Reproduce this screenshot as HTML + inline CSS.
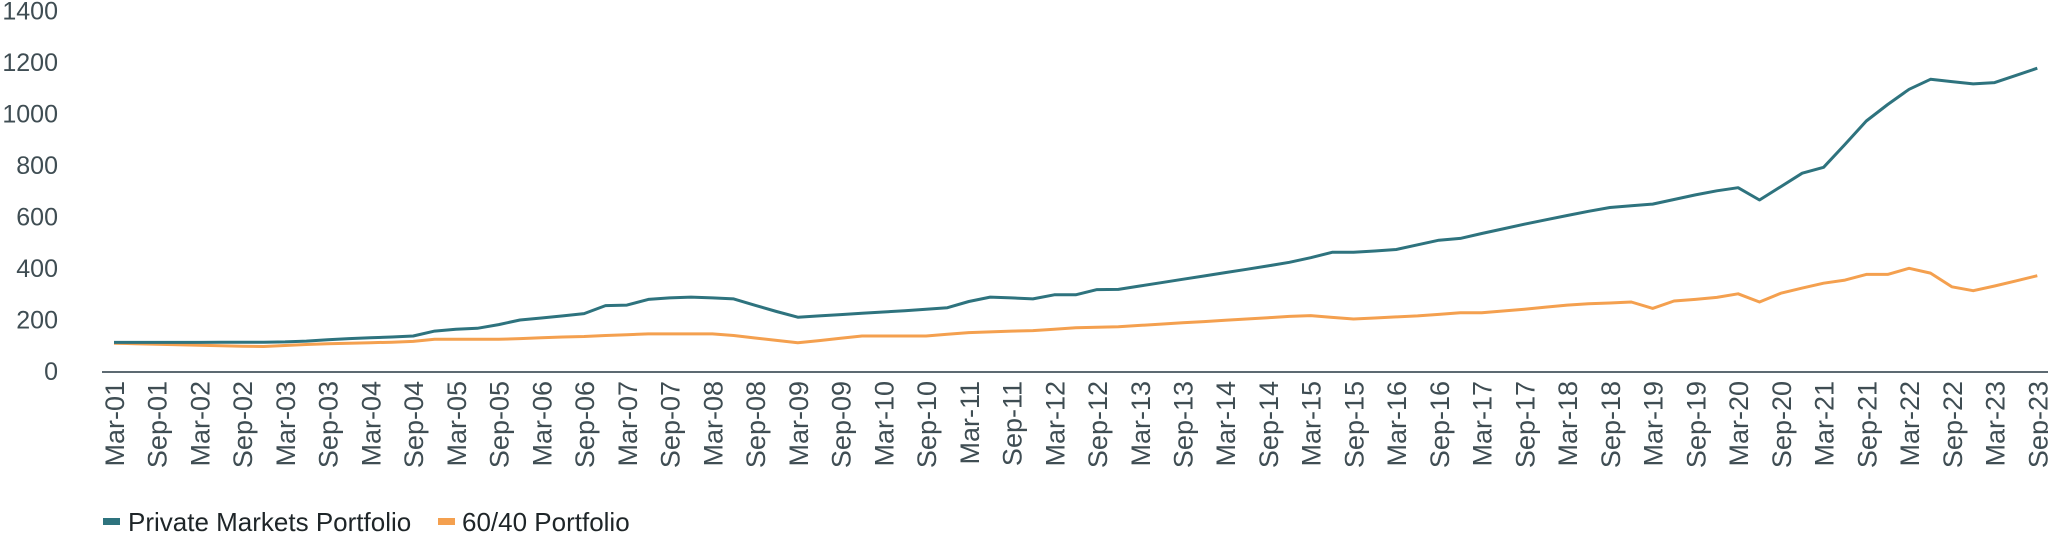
<!DOCTYPE html>
<html><head><meta charset="utf-8"><style>
html,body{margin:0;padding:0;background:#fff;}
svg{display:block;font-family:"Liberation Sans",sans-serif;}
</style></head><body>
<svg id="chart" width="2048" height="538" viewBox="0 0 2048 538" xmlns="http://www.w3.org/2000/svg">
<g id="yaxis"></g>
<g id="xaxis"></g>
<g id="series"></g>
<g>
  <g>
    <rect x="103" y="518" width="17" height="7" fill="#2e737e"/>
    <text x="128" y="531" font-size="26" fill="#1e2528">Private Markets Portfolio</text>
  </g>
  <g>
    <rect x="438" y="518" width="17" height="7" fill="#f4a04f"/>
    <text x="462" y="531" font-size="26" fill="#1e2528">60/40 Portfolio</text>
  </g>
</g>
</svg>
<script>
const yTicks = [0,200,400,600,800,1000,1200,1400];
const xTickLabels = ["Mar-01","Sep-01","Mar-02","Sep-02","Mar-03","Sep-03","Mar-04","Sep-04","Mar-05","Sep-05","Mar-06","Sep-06","Mar-07","Sep-07","Mar-08","Sep-08","Mar-09","Sep-09","Mar-10","Sep-10","Mar-11","Sep-11","Mar-12","Sep-12","Mar-13","Sep-13","Mar-14","Sep-14","Mar-15","Sep-15","Mar-16","Sep-16","Mar-17","Sep-17","Mar-18","Sep-18","Mar-19","Sep-19","Mar-20","Sep-20","Mar-21","Sep-21","Mar-22","Sep-22","Mar-23","Sep-23"];
const privateMarkets = [111,111,111,111,111,112,112,112,113,116,121,126,129,132,136,155,162,166,180,198,206,214,223,254,256,278,284,287,284,280,255,231,209,214,219,224,229,234,240,246,270,287,284,280,296,296,316,317,330,343,356,369,382,395,408,422,440,461,461,466,472,490,508,515,534,552,570,587,604,620,635,642,648,666,684,700,712,664,716,768,791,880,971,1035,1094,1133,1124,1115,1120,1148,1176];
const sixtyForty = [108,106,104,102,100,98,96,95,99,103,106,108,110,112,115,123,123,123,123,126,129,132,134,138,141,144,144,144,144,138,128,119,110,118,127,136,136,136,136,143,149,152,155,157,162,168,170,172,177,182,187,192,197,202,207,212,215,208,202,206,210,214,220,226,226,233,240,248,256,261,264,268,243,272,278,286,300,268,302,322,341,353,375,375,399,380,327,312,330,350,370];

const NS = "http://www.w3.org/2000/svg";
const X0 = 114, XQ = 21.37;
const Y0 = 371, YS = 360.5/1400;
function xScale(i){ return X0 + i*XQ; }
function yScale(v){ return Y0 - v*YS; }

const yaxis = document.getElementById('yaxis');
yTicks.forEach(t=>{
  const tx = document.createElementNS(NS,'text');
  tx.setAttribute('x', 58);
  tx.setAttribute('y', yScale(t)+9);
  tx.setAttribute('text-anchor','end');
  tx.setAttribute('font-size','25');
  tx.setAttribute('fill','#3f4d53');
  tx.textContent = t;
  
  
  yaxis.appendChild(tx);
});

const xaxis = document.getElementById('xaxis');
const axisLine = document.createElementNS(NS,'line');
axisLine.setAttribute('x1',102); axisLine.setAttribute('x2',2048);
axisLine.setAttribute('y1',372); axisLine.setAttribute('y2',372);
axisLine.setAttribute('stroke','#5d6a72'); axisLine.setAttribute('stroke-width','2');


xaxis.appendChild(axisLine);
xTickLabels.forEach((lab,k)=>{
  const x = xScale(k*2) + 10;
  const tx = document.createElementNS(NS,'text');
  tx.setAttribute('transform','translate('+x+',381) rotate(-90)');
  tx.setAttribute('text-anchor','end');
  tx.setAttribute('font-size','27');
  tx.setAttribute('fill','#3f4d53');
  tx.textContent = lab;
  
  
  xaxis.appendChild(tx);
});

const series = document.getElementById('series');
function drawLine(vals, color, name){
  const p = document.createElementNS(NS,'polyline');
  p.setAttribute('points', vals.map((v,i)=>xScale(i).toFixed(1)+','+yScale(v).toFixed(1)).join(' '));
  p.setAttribute('fill','none');
  p.setAttribute('stroke',color);
  p.setAttribute('stroke-width','3');
  p.setAttribute('stroke-linejoin','round');
  
  
  series.appendChild(p);
}
drawLine(sixtyForty, '#f4a04f', 'line-60-40-portfolio');
drawLine(privateMarkets, '#2e737e', 'line-private-markets-portfolio');
</script>
</body></html>
